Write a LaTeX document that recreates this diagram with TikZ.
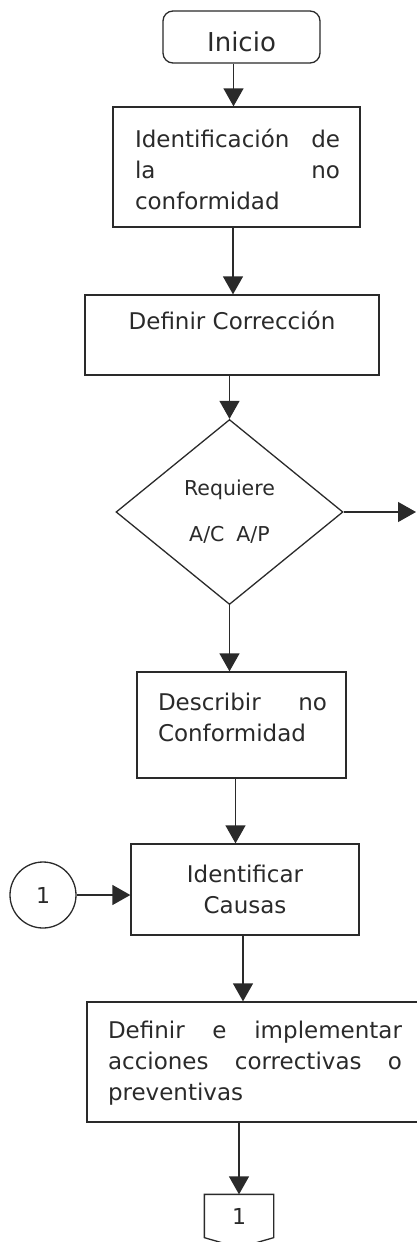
\documentclass[tikz,border=0pt]{standalone}
\usepackage{fontspec}
\setmainfont{DejaVu Sans}
\usetikzlibrary{arrows.meta,shapes.geometric,calc}
\definecolor{ink}{HTML}{2A2A2A}
\begin{document}
\begin{tikzpicture}[x=1pt,y=-1pt,color=ink,line width=1.3pt,
  box/.style={draw,rectangle,inner sep=0pt},
  txt/.style={inner sep=0pt,font=\fontsize{23}{31}\selectfont},
  arr/.style={-{Triangle[width=20pt,length=18pt]}}]
\useasboundingbox (0,0) rectangle (416,1242);

% start
\node[box,rounded corners=10pt,minimum width=157pt,minimum height=52pt] (inicio) at (241.5,37) {};
\node[txt,font=\fontsize{26}{30}\selectfont] (tinicio) at (241.5,42) {Inicio};

% identification
\node[box,minimum width=247pt,minimum height=120pt] (id) at (236.5,167) {};
\node[txt,text width=205pt,align=left] (tid) at (237.5,169) {Identificación\hfill de\\la\hfill no\\conformidad};

% define correction
\node[box,minimum width=294pt,minimum height=80pt] (def) at (232,335) {};
\node[txt] (tdef) at (232,320) {Definir Corrección};

% decision
\node[draw,diamond,minimum width=227pt,minimum height=185pt,inner sep=0pt,align=center,
      font=\fontsize{20.5}{46}\selectfont] (dec) at (229.5,512) {Requiere\\A/C\hspace{12pt}A/P};
\coordinate (out) at (416,512);

% describe
\node[box,minimum width=209pt,minimum height=106pt] (desc) at (241.5,725) {};
\node[txt,text width=169pt,align=left] (tdesc) at (242.5,717) {Describir\hfill no\\Conformidad};

% causes
\node[box,txt,minimum width=228pt,minimum height=91pt,align=center] (causas) at (245,889.5) {Identificar\\Causas};
\node[draw,circle,minimum size=66pt,inner sep=0pt,font=\fontsize{22}{26}\selectfont] (c1) at (43,895) {1};

% actions
\node[box,minimum width=333pt,minimum height=120pt] (acc) at (253.5,1062) {};
\node[txt,text width=294pt,align=left] (tacc) at (255,1063) {Definir\hfill e\hfill implementar\\acciones\hfill correctivas\hfill o\\preventivas};

% off-page connector
\node[inner sep=0pt,minimum width=68pt,minimum height=42pt,font=\fontsize{22}{26}\selectfont] (conn) at (239,1216) {\raisebox{-6pt}{1}};
\draw (conn.north west) -- (conn.north east) -- (conn.south east) -- ($(conn.south)+(0,10)$) -- (conn.south west) -- cycle;

% connectors
\draw[arr] ([xshift=-8pt]inicio.south) -- ([xshift=-8pt]inicio.south |- id.north);
\draw[arr] ([xshift=-3.5pt]id.south) -- ([xshift=-3.5pt]id.south |- def.north);
\draw[arr] (dec.north |- def.south) -- (dec.north);
\draw[arr] (dec.east) -- (out);
\draw[arr] (dec.south) -- (dec.south |- desc.north);
\draw[arr] ([xshift=-6pt]desc.south) -- ([xshift=-6pt]desc.south |- causas.north);
\draw[arr] ([xshift=-2pt]causas.south) -- ([xshift=-2pt]causas.south |- acc.north);
\draw[arr] (conn.north |- acc.south) -- (conn.north);
\draw[arr] (c1.east) -- (c1.east -| causas.west);
\end{tikzpicture}
\end{document}
